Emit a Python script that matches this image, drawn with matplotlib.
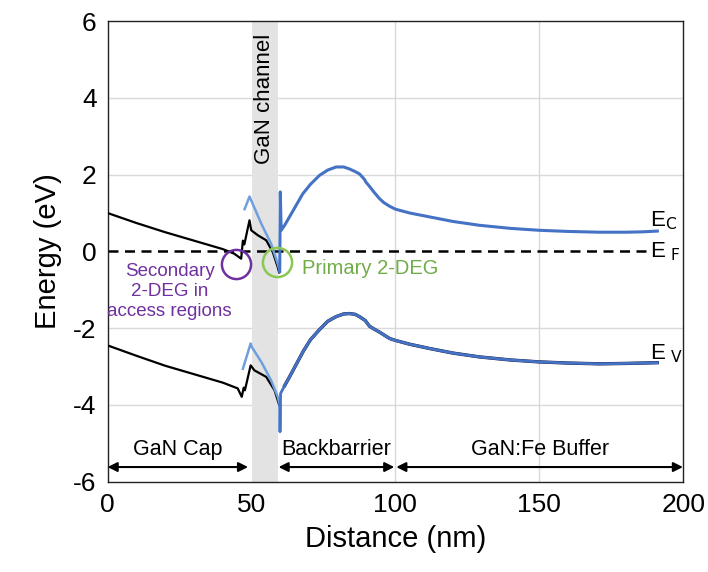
import matplotlib
matplotlib.use("Agg")
import matplotlib.pyplot as plt

plt.rcParams['font.family'] = ['Liberation Sans', 'DejaVu Sans']
plt.rcParams['axes.unicode_minus'] = False

# conduction band, GaN cap region (black)
ec_cap_x = [0, 10, 20, 30, 40, 44, 46.4, 47.0, 47.5, 49.3, 49.9, 52.2, 55.1, 57.4, 59.1, 59.6]
ec_cap_y = [1.0, 0.74, 0.5, 0.28, 0.06, -0.06, -0.19, 0.28, 0.18, 0.81, 0.55, 0.42, 0.29, -0.02, -0.41, -0.55]
# conduction band, light blue piece around channel
ec_ch_x = [47.6, 49.3, 49.6, 53.4, 56.8, 59.1, 59.8]
ec_ch_y = [1.1, 1.43, 1.38, 0.72, 0.2, -0.32, -0.52]
# conduction band, main (dark blue)
ec_x = [59.8, 60.0, 60.3, 61.5, 63.2, 65.5, 67.8, 70.5, 73.6, 76.5, 79.4, 82, 84, 86, 87.5,
        89.2, 89.8, 90.5, 92.5, 94.4, 96, 97.9, 100, 105, 111.8, 120, 129.2, 140, 150, 160,
        170.8, 180, 186, 191]
ec_y = [-0.52, 1.55, 0.55, 0.68, 0.9, 1.2, 1.5, 1.75, 1.98, 2.12, 2.2, 2.2, 2.15, 2.08, 2.02,
        1.88, 1.8, 1.74, 1.55, 1.38, 1.27, 1.18, 1.1, 1.0, 0.9, 0.78, 0.68, 0.6, 0.55, 0.52,
        0.5, 0.5, 0.51, 0.53]

# valence band, GaN cap region (black)
ev_cap_x = [0, 10, 20, 30, 40, 45.2, 46.6, 47.3, 47.7, 49.7, 51, 55.1, 58, 59.1, 59.6]
ev_cap_y = [-2.45, -2.72, -2.98, -3.2, -3.42, -3.57, -3.79, -3.55, -3.62, -2.97, -3.1, -3.27, -3.62, -3.88, -4.0]
ev_ch_x = [47.0, 49.7, 50.0, 53.4, 56.8, 59.1, 59.8]
ev_ch_y = [-3.06, -2.4, -2.48, -2.88, -3.36, -3.79, -4.0]
ev_x = [59.8, 59.9, 60.1, 61.5, 63.2, 65.5, 68, 70.5, 73.6, 76.5, 79.4, 82, 84, 86, 87.5,
        89.5, 91, 92.5, 94.4, 96.5, 98, 100, 105, 111.8, 120, 129.2, 140, 150, 160, 170.8,
        180, 191]
ev_y = [-4.0, -4.7, -3.7, -3.5, -3.27, -2.95, -2.6, -2.3, -2.04, -1.82, -1.7, -1.63, -1.62,
        -1.64, -1.7, -1.8, -1.95, -2.02, -2.1, -2.2, -2.27, -2.32, -2.42, -2.53, -2.65, -2.75,
        -2.83, -2.88, -2.91, -2.93, -2.92, -2.9]

ef_x = [0, 187]
ef_y = [0, 0]

xticks = [0, 50, 100, 150, 200]
yticks = [-6, -4, -2, 0, 2, 4, 6]

regions = [("GaN Cap", 0, 48.8), ("Backbarrier", 59.4, 99.6), ("GaN:Fe Buffer", 100.3, 199.9)]

DARK = '#4472c4'
LIGHT = '#6f9fde'
PURPLE = '#7030a0'
GREEN = '#8cc653'

fig = plt.figure(figsize=(7.08, 5.72), dpi=100)
ax = fig.add_axes([0.152, 0.158, 0.813, 0.805])

ax.set_xlim(0, 200)
ax.set_ylim(-6, 6)
ax.set_xticks(xticks)
ax.set_yticks(yticks)
ax.tick_params(length=0, labelsize=19, pad=8)
for s in ax.spines.values():
    s.set_linewidth(1.0)
    s.set_color('#222222')

for y in [-4, -2, 2, 4]:
    ax.axhline(y, color='#d9d9d9', lw=1.0, zorder=0)
for x in [100, 150]:
    ax.axvline(x, color='#d9d9d9', lw=1.0, zorder=0)

ax.axvspan(50, 59.3, color='#e3e3e3', lw=0, zorder=0.5)

ax.plot(ef_x, ef_y, color='black', lw=1.8, ls=(0, (4, 2.6)), zorder=2)

ax.plot(ec_cap_x, ec_cap_y, color='black', lw=1.6, zorder=3)
ax.plot(ev_cap_x, ev_cap_y, color='black', lw=1.6, zorder=3)
ax.plot(ev_x[3:], ev_y[3:], color='#1a1a40', lw=2.4, zorder=3)
ax.plot(ec_ch_x, ec_ch_y, color=LIGHT, lw=1.8, zorder=4)
ax.plot(ev_ch_x, ev_ch_y, color=LIGHT, lw=1.8, zorder=4)
ax.plot(ec_x, ec_y, color=DARK, lw=2.2, zorder=5)
ax.plot(ev_x, ev_y, color=DARK, lw=2.0, zorder=5)

ax.plot([44.7], [-0.32], 'o', ms=21, mfc='none', mec=PURPLE, mew=1.8, zorder=6)
ax.plot([58.7], [-0.28], 'o', ms=21, mfc='none', mec=GREEN, mew=1.8, zorder=6)

ax.text(21.5, -1.04, "Secondary\n2-DEG in\naccess regions", color=PURPLE, fontsize=13.5,
        ha='center', va='center', linespacing=1.25)
ax.text(67.7, -0.44, "Primary 2-DEG", color='#70ad47', fontsize=14.5, ha='left', va='center')
ax.text(54.6, 3.98, "GaN channel", rotation=90, fontsize=16, ha='center', va='center')

ax.text(188.5, 0.8, r"E$_{\rm C}$", fontsize=16, ha='left', va='center')
ax.text(188.5, 0.0, r"E$_{\rm \ F}$", fontsize=16, ha='left', va='center')
ax.text(188.5, -2.66, r"E$_{\rm \ V}$", fontsize=16, ha='left', va='center')

for label, x0, x1 in regions:
    ax.annotate('', xy=(x0, -5.62), xytext=(x1, -5.62),
                arrowprops=dict(arrowstyle='<|-|>', color='black', lw=1.5,
                                mutation_scale=14, shrinkA=0, shrinkB=0))
    ax.text((x0 + x1) / 2, -5.15, label, fontsize=15.5, ha='center', va='center')

ax.set_xlabel("Distance (nm)", fontsize=21, labelpad=6)
ax.set_ylabel("Energy (eV)", fontsize=21, labelpad=8)

fig.savefig("out.png", dpi=100)
